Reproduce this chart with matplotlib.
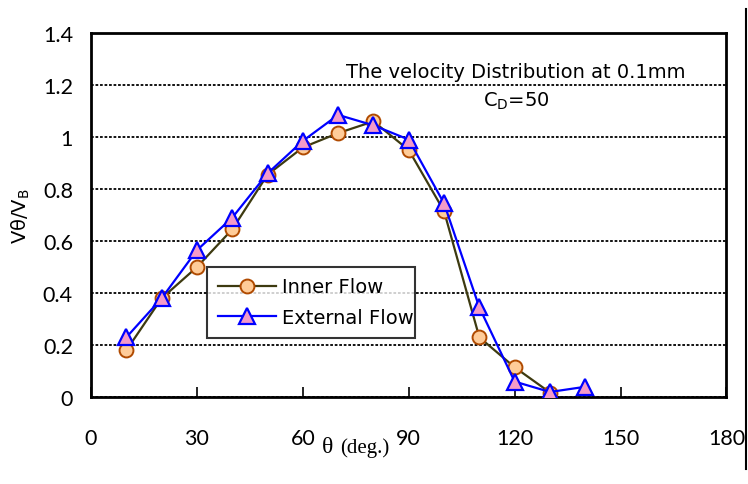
import matplotlib
matplotlib.use("Agg")
import matplotlib.pyplot as plt
from matplotlib.lines import Line2D

# ---- data ----
theta = [10, 20, 30, 40, 50, 60, 70, 80, 90, 100, 110, 120, 130]
inner_flow = [0.18, 0.38, 0.50, 0.645, 0.855, 0.96, 1.015, 1.06, 0.95, 0.715, 0.23, 0.115, 0.018]
theta_ext = [10, 20, 30, 40, 50, 60, 70, 80, 90, 100, 110, 120, 130, 140]
external_flow = [0.23, 0.38, 0.565, 0.69, 0.86, 0.985, 1.085, 1.045, 0.99, 0.745, 0.345, 0.06, 0.02, 0.04]
xticks = [0, 30, 60, 90, 120, 150, 180]
yticks = [0, 0.2, 0.4, 0.6, 0.8, 1.0, 1.2, 1.4]
ytick_labels = ["0", "0.2", "0.4", "0.6", "0.8", "1", "1.2", "1.4"]

tick_font = ["Lato", "DejaVu Sans"]
text_font = ["DejaVu Sans"]

fig = plt.figure(figsize=(7.48, 4.85), dpi=100)
ax = fig.add_axes([0.1217, 0.179, 0.8495, 0.751])

ax.plot(theta, inner_flow, color="#3d3a10", lw=1.6, marker="o", ms=10,
        mfc="#FFCC99", mec="#B04A00", mew=1.4, label="Inner Flow", zorder=3)
ax.plot(theta_ext, external_flow, color="#0000FF", lw=1.6, marker="^", ms=11,
        mfc="#F49AC8", mec="#0000FF", mew=1.6, label="External Flow", zorder=4)

ax.set_xlim(0, 180)
ax.set_ylim(0, 1.4)
ax.set_xticks(xticks)
ax.set_yticks(yticks)
ax.set_yticklabels(ytick_labels)
for lab in ax.get_xticklabels() + ax.get_yticklabels():
    lab.set_family(tick_font)
    lab.set_fontsize(15.5)
ax.tick_params(axis="x", direction="in", length=7, width=1.2, pad=22)
ax.tick_params(axis="y", direction="in", length=0, pad=13)
ax.yaxis.grid(True, color="black", linestyle=(0, (1.5, 1)), lw=1.3)
ax.set_axisbelow(True)
for s in ax.spines.values():
    s.set_linewidth(2)

leg = ax.legend(loc="lower left", bbox_to_anchor=(0.183, 0.163, 0.327, 0.187),
                mode="expand", frameon=True, fancybox=False,
                borderaxespad=0, handlelength=3.0, handletextpad=0.3,
                labelspacing=0.6, borderpad=0.55,
                prop={"family": text_font, "size": 14})
leg.get_frame().set_edgecolor("black")
leg.get_frame().set_linewidth(1.5)

ax.text(120.4, 1.25, "The velocity Distribution at 0.1mm", ha="center", va="center",
        fontsize=14, family=text_font)
ax.text(120.4, 1.142, r"C$_{\mathregular{D}}$=50", ha="center", va="center",
        fontsize=14, family=text_font)

fig.text(0.430, 0.066, "θ", fontsize=17, family=["Liberation Serif"], ha="left", va="baseline")
fig.text(0.455, 0.066, "(deg.)", fontsize=15, family=["Liberation Serif"], ha="left", va="baseline")

fig.text(0.028, 0.555, r"Vθ/V$_{\mathregular{B}}$", rotation=90, fontsize=14,
         family=text_font, ha="center", va="center")

fig.add_artist(Line2D([0.997, 0.997], [0.03, 0.98], color="black", lw=1.5))

fig.savefig("out.png", dpi=100)
